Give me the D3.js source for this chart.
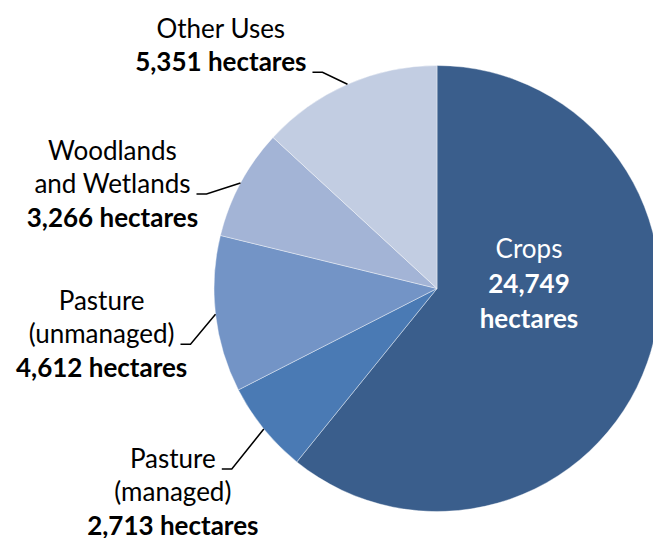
<!DOCTYPE html>
<html>
<head>
<meta charset="utf-8">
<script src="https://d3js.org/d3.v7.min.js"></script>
<style>
  body { margin: 0; background: #fff; }
  text { font-family: Lato, "Open Sans", sans-serif; font-size: 26px; fill: #000; }
</style>
</head>
<body>
<div id="chart"></div>
<script>
// land use data
const categories = ["Crops", "Pasture (managed)", "Pasture (unmanaged)", "Woodlands and Wetlands", "Other Uses"]
const hectares = [24749, 2713, 4612, 3266, 5351]
const labelLines = [
    ["Crops"],
    ["Pasture", "(managed)"],
    ["Pasture", "(unmanaged)"],
    ["Woodlands", "and Wetlands"],
    ["Other Uses"]
]
const colorList = ["#3A5E8C", "#4A7AB4", "#7394C6", "#A3B4D6", "#C2CDE2"]

let width = 653
let height = 538
let cx = 437
let cy = 288.5
let radius = 223
let lineGap = 33.5

let svg = d3.select("#chart")
    .append("svg")
    .attr("width", width)
    .attr("height", height)

let data = categories.map((c, i) => ({ name: c, value: hectares[i], lines: labelLines[i] }))

let color = d3.scaleOrdinal()
    .domain(categories)
    .range(colorList)

let pie = d3.pie()
    .value(d => d.value)
    .sort(null)

let arc = d3.arc()
    .innerRadius(0)
    .outerRadius(radius)

let edge = d3.arc()
    .innerRadius(radius)
    .outerRadius(radius)

let arcs = pie(data)

let g = svg.append("g")
    .attr("transform", "translate(" + cx + "," + cy + ")")

g.selectAll("path")
    .data(arcs)
    .enter()
    .append("path")
    .attr("d", arc)
    .style("fill", d => color(d.data.name))
    .style("stroke", "#ffffff")
    .style("stroke-opacity", 0.5)
    .style("stroke-width", 0.8)

// crops label inside the slice
let inside = g.append("text")
    .attr("text-anchor", "middle")
    .style("fill", "#fff")
inside.append("tspan").attr("x", 92).attr("y", -31).text(arcs[0].data.lines[0])
inside.append("tspan").attr("x", 92).attr("y", 4).style("font-weight", "bold").text(d3.format(",")(arcs[0].data.value))
inside.append("tspan").attr("x", 92).attr("y", 39.5).style("font-weight", "bold").text("hectares")

// outside labels: leader offset from the slice edge, and which text line the leader meets
let leaderOffset = [null, [-32, 40], [-25, 30], [-34, 11], [-25, -12]]
let leaderLine = [null, 0, 1, 1, 1]

arcs.slice(1).forEach(function (d) {
    let i = d.index
    let p = edge.centroid(d)
    let ex = cx + p[0], ey = cy + p[1]
    let bx = ex + leaderOffset[i][0], by = ey + leaderOffset[i][1]
    let sx = bx - 10

    svg.append("polyline")
        .attr("points", [[sx, by], [bx, by], [ex, ey]].map(q => q.join(",")).join(" "))
        .style("fill", "none")
        .style("stroke", "#000")
        .style("stroke-width", 1.5)

    let rows = d.data.lines.map(s => ({ t: s, bold: false }))
    rows.push({ t: d3.format(",")(d.data.value) + " hectares", bold: true })

    let label = svg.append("text").attr("text-anchor", "middle")
    let k = leaderLine[i]
    let tsp = rows.map((r, j) => label.append("tspan")
        .attr("y", by + (j - k) * lineGap - 1)
        .style("font-weight", r.bold ? "bold" : "normal")
        .text(r.t))

    let w = tsp[k].node().getComputedTextLength()
    let mid = sx - 6 - w / 2
    tsp.forEach(t => t.attr("x", mid))
})
</script>
</body>
</html>
